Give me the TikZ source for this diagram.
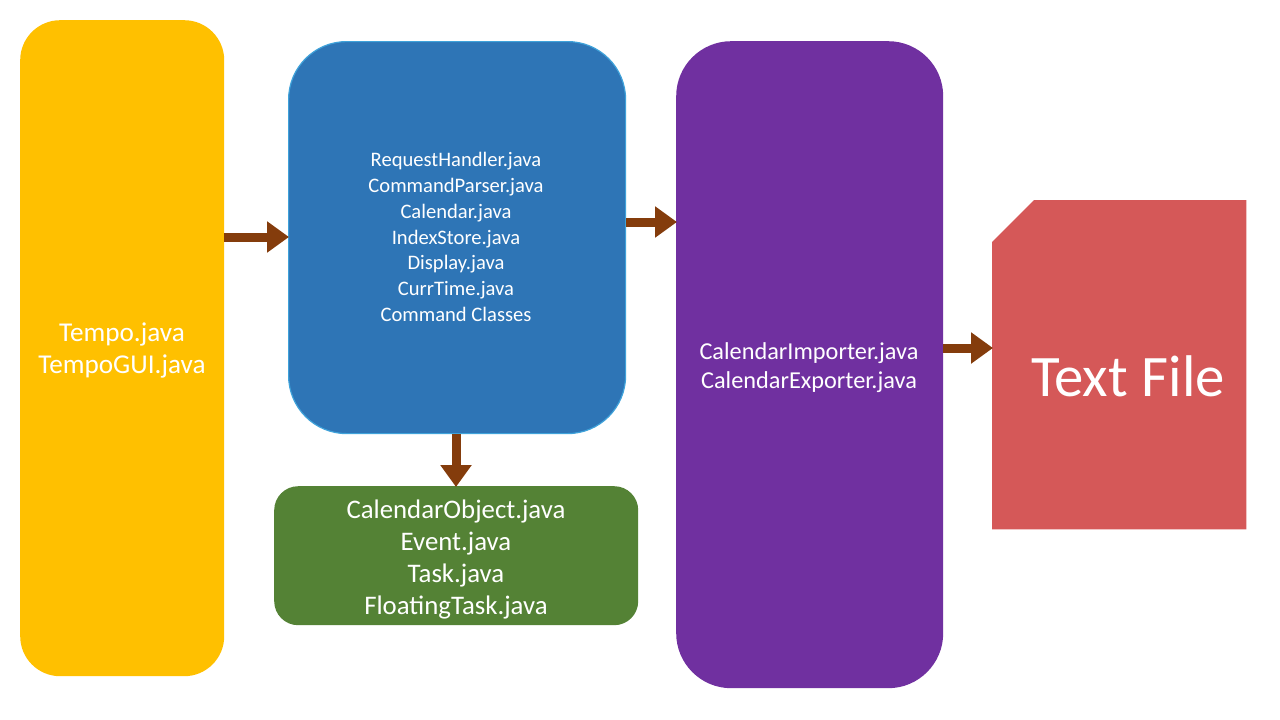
\documentclass[tikz,border=0pt]{standalone}
\usepackage{fontspec}
\setmainfont{Carlito}
\usetikzlibrary{arrows.meta}
\definecolor{cyellow}{HTML}{FFC000}
\definecolor{cblue}{HTML}{2E75B6}
\definecolor{cblueb}{HTML}{3FA2DA}
\definecolor{cgreen}{HTML}{548235}
\definecolor{cpurple}{HTML}{7030A0}
\definecolor{cred}{HTML}{D55858}
\definecolor{carrow}{HTML}{843C0C}
\tikzset{
  box/.style={rectangle, inner sep=0pt, anchor=north west},
  lbl/.style={text=white, align=center, inner sep=0pt},
  conn/.style={draw=carrow, line width=9pt, -{Triangle[length=22pt,width=30pt]}, shorten >=-1pt},
}
\begin{document}
\begin{tikzpicture}[x=1pt,y=-1pt]
\useasboundingbox (0,0) rectangle (1280,720);
\fill[white] (0,0) rectangle (1280,720);
% boxes
\node[box, fill=cyellow, rounded corners=40pt, minimum width=204pt, minimum height=656pt] (yel) at (20,20) {};
\node[box, fill=cblue, draw=cblueb, line width=1.2pt, rounded corners=58pt, minimum width=337pt, minimum height=392pt] (blu) at (288,41) {};
\node[box, fill=cgreen, rounded corners=24pt, minimum width=364pt, minimum height=139pt] (grn) at (274,486) {};
\node[box, fill=cpurple, rounded corners=55pt, minimum width=267pt, minimum height=647pt] (pur) at (676,41) {};
\node[box, minimum width=254pt, minimum height=329pt] (txt) at (992,200) {};
\fill[cred] (txt.north west) ++(0,42) -- ++(42,-42) -- (txt.north east) -- (txt.south east) -- (txt.south west) -- cycle;
% labels
\node[lbl, font=\fontsize{27.2}{32}\selectfont] (yell) at (122,350) {Tempo.java\\TempoGUI.java};
\node[lbl, font=\fontsize{20.6}{25.7}\selectfont] (blul) at (456,237) {RequestHandler.java\\CommandParser.java\\Calendar.java\\IndexStore.java\\Display.java\\CurrTime.java\\Command Classes};
\node[lbl, font=\fontsize{26.8}{32}\selectfont] (grnl) at (456,559) {CalendarObject.java\\Event.java\\Task.java\\FloatingTask.java};
\node[lbl, font=\fontsize{24.3}{29}\selectfont] (purl) at (809,368) {CalendarImporter.java\\CalendarExporter.java};
\node[lbl, font=\fontsize{58.8}{60}\selectfont] (txtl) at (1128,376) {Text File};
% connectors
\coordinate (a1) at (0,237);
\draw[conn] (yel.east |- a1) -- (blu.west |- a1);
\coordinate (a2) at (0,222);
\draw[conn] (blu.east |- a2) -- (pur.west |- a2);
\coordinate (a3) at (0,348);
\draw[conn] (pur.east |- a3) -- (txt.west |- a3);
\coordinate (a4) at (456,0);
\draw[conn] (blu.south -| a4) -- (grn.north -| a4);
\end{tikzpicture}
\end{document}
